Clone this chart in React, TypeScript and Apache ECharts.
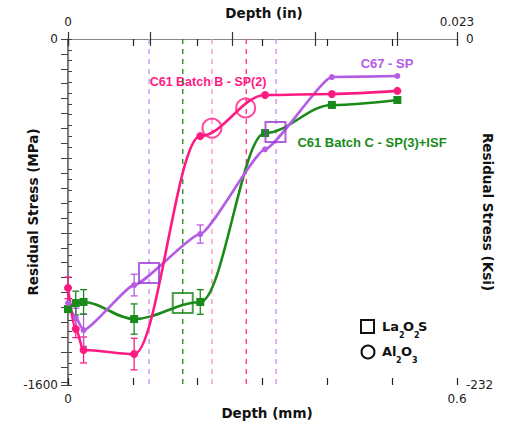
import React, { useEffect, useRef } from 'react';
import * as echarts from 'echarts';

// Depth (mm) of the measurement points
const depthMM = [0, 0.012, 0.024, 0.102, 0.204, 0.304, 0.407, 0.508];
// Residual stress (MPa)
const batchB = [-1151, -1341, -1438, -1457, -449, -259, -254, -240];
const c67 = [-1221, -1290, -1346, -1138, -902, -510, -176, -171];
const batchC = [-1249, -1221, -1216, -1295, -1216, -435, -305, -282];
// Error bar half widths (MPa), 0 = none
const batchBErr = [50, 40, 60, 73, 0, 0, 0, 0];
const c67Err = [0, 45, 75, 50, 42, 0, 0, 0];
const batchCErr = [0, 55, 57, 70, 57, 0, 0, 0];
// Inclusion markers
const la2o2sPurple = [[0.125, -1082], [0.32, -430]];
const la2o2sGreen = [[0.177, -1221]];
const al2o3Pink = [[0.222, -412], [0.274, -319]];
// Vertical dashed lines (mm)
const vlineDepths = [0.125, 0.177, 0.222, 0.275, 0.321];

const PINK = '#ff1a82';
const PURPLE = '#b45ce6';
const SQ_PURPLE = '#9a38d6';
const GREEN = '#1a8a1a';
const vlineColors = ['#c98af0', '#1a8a1a', '#ff8cc6', '#ff2a8a', '#c98af0'];

const FONT = '"Liberation Sans", Arial, sans-serif';
const DV = '"DejaVu Sans", Verdana, sans-serif';
const MAX_IN = 0.6 / 25.4;

function pairs(ys: number[]) {
  return depthMM.map((x, i) => [x, ys[i]]);
}
function errData(ys: number[], errs: number[]) {
  const out: number[][] = [];
  depthMM.forEach((x, i) => {
    if (errs[i] > 0) out.push([x, ys[i] - errs[i], ys[i] + errs[i]]);
  });
  return out;
}
function errSeries(ys: number[], errs: number[], color: string) {
  return {
    type: 'custom',
    xAxisIndex: 0,
    yAxisIndex: 0,
    data: errData(ys, errs),
    encode: { x: 0, y: [1, 2] },
    z: 3,
    renderItem: (params: any, api: any) => {
      const x = api.value(0);
      const p1 = api.coord([x, api.value(1)]);
      const p2 = api.coord([x, api.value(2)]);
      const w = 3.5;
      const st = { stroke: color, lineWidth: 1.3 };
      return {
        type: 'group',
        children: [
          { type: 'line', shape: { x1: p1[0], y1: p1[1], x2: p2[0], y2: p2[1] }, style: st },
          { type: 'line', shape: { x1: p1[0] - w, y1: p1[1], x2: p1[0] + w, y2: p1[1] }, style: st },
          { type: 'line', shape: { x1: p2[0] - w, y1: p2[1], x2: p2[0] + w, y2: p2[1] }, style: st },
        ],
      };
    },
  };
}

export default function App() {
  const ref = useRef<HTMLDivElement>(null);
  useEffect(() => {
    if (!ref.current) return;
    const chart = echarts.init(ref.current, null, { renderer: 'svg' });
    const lineSeries = (name: string, ys: number[], color: string, symbol: string, size: number, smooth: number) => ({
      name,
      type: 'line',
      xAxisIndex: 0,
      yAxisIndex: 0,
      data: pairs(ys),
      smooth,
      smoothMonotone: 'x',
      symbol,
      symbolSize: size,
      showSymbol: true,
      lineStyle: { color, width: 2.6 },
      itemStyle: { color },
      z: 4,
    });
    const emptyMarker = (data: number[][], color: string, symbol: string, size: number) => ({
      type: 'scatter',
      xAxisIndex: 0,
      yAxisIndex: 0,
      data,
      symbol,
      symbolSize: size,
      itemStyle: { color: 'rgba(0,0,0,0)', borderColor: color, borderWidth: 2 },
      z: 5,
    });
    const tickLabel = { color: '#222', fontSize: 12, fontFamily: DV };
    const option: any = {
      animation: false,
      textStyle: { fontFamily: FONT },
      grid: { left: 68, right: 53, top: 39, bottom: 42 },
      xAxis: [
        {
          type: 'value', position: 'bottom', min: 0, max: 0.6, interval: 0.1,
          axisLine: { show: true, lineStyle: { color: '#222', width: 1.2 } },
          axisTick: { show: true, length: 7, lineStyle: { color: '#222', width: 1.2 } },
          axisLabel: {
            margin: 8, ...tickLabel,
            formatter: (v: number) => (v === 0 ? '0' : Math.abs(v - 0.6) < 1e-9 ? '0.6' : ''),
          },
          splitLine: { show: false },
        },
        {
          type: 'value', position: 'top', min: 0, max: MAX_IN, interval: 0.005,
          axisLine: { show: true, lineStyle: { color: '#888', width: 1.2 } },
          axisTick: { show: true, length: 7, lineStyle: { color: '#333', width: 1.2 } },
          axisLabel: {
            margin: 11, ...tickLabel,
            formatter: (v: number) => (v === 0 ? '0' : Math.abs(v - MAX_IN) < 1e-9 ? '0.023' : ''),
          },
          splitLine: { show: false },
        },
        {
          type: 'value', position: 'bottom', min: 0, max: 0.6, interval: 0.1,
          axisLine: { show: false },
          axisTick: { show: true, inside: true, length: 7, lineStyle: { color: '#222', width: 1.2 } },
          axisLabel: { show: false },
          splitLine: { show: false },
        },
        {
          type: 'value', position: 'top', min: 0, max: MAX_IN, interval: 0.005,
          axisLine: { show: false },
          axisTick: { show: true, inside: true, length: 7, lineStyle: { color: '#333', width: 1.2 } },
          axisLabel: { show: false },
          splitLine: { show: false },
        },
      ],
      yAxis: [
        {
          type: 'value', position: 'left', min: -1600, max: 0, interval: 50,
          axisLine: { show: true, lineStyle: { color: '#444', width: 1.5 } },
          axisTick: { show: true, inside: true, length: 4, lineStyle: { color: '#444' } },
          axisLabel: {
            margin: 10, ...tickLabel,
            formatter: (v: number) => (v === 0 ? '0' : v === -1600 ? '-1600' : ''),
          },
          splitLine: { show: false },
        },
        {
          type: 'value', position: 'right', min: 0, max: 232, interval: 10, inverse: true,
          axisLine: { show: true, lineStyle: { color: '#888', width: 1.2 } },
          axisTick: { show: true, inside: true, length: 7, lineStyle: { color: '#444' } },
          axisLabel: {
            margin: 9, ...tickLabel,
            formatter: (v: number) => (v === 0 ? '0' : v === 232 ? '-232' : ''),
          },
          splitLine: { show: false },
        },
      ],
      series: [
        {
          type: 'custom',
          xAxisIndex: 0,
          yAxisIndex: 0,
          data: vlineDepths.map((d) => [d]),
          encode: { x: 0 },
          z: 1,
          renderItem: (params: any, api: any) => {
            const x = api.value(0);
            const top = api.coord([x, 0]);
            const bot = api.coord([x, -1600]);
            return {
              type: 'line',
              shape: { x1: top[0], y1: top[1], x2: bot[0], y2: bot[1] },
              style: { stroke: vlineColors[params.dataIndex], lineWidth: 1.3, lineDash: [5, 5] },
            };
          },
        },
        errSeries(batchB, batchBErr, PINK),
        errSeries(c67, c67Err, PURPLE),
        errSeries(batchC, batchCErr, GREEN),
        lineSeries('C61 Batch C - SP(3)+ISF', batchC, GREEN, 'rect', 8, 0.35),
        lineSeries('C67 - SP', c67, PURPLE, 'circle', 6, 0.15),
        lineSeries('C61 Batch B - SP(2)', batchB, PINK, 'circle', 8, 0.35),
        emptyMarker(la2o2sPurple, SQ_PURPLE, 'rect', 20),
        emptyMarker(la2o2sGreen, GREEN, 'rect', 20),
        emptyMarker(al2o3Pink, PINK, 'circle', 19),
      ],
      graphic: [
        { type: 'text', x: 264, y: 13, style: { text: 'Depth (in)', font: `bold 13.5px ${DV}`, fill: '#111', align: 'center', verticalAlign: 'middle' } },
        { type: 'text', x: 267, y: 413, style: { text: 'Depth (mm)', font: `bold 13.5px ${DV}`, fill: '#111', align: 'center', verticalAlign: 'middle' } },
        { type: 'text', x: 33, y: 212, rotation: Math.PI / 2, style: { text: 'Residual Stress (MPa)', font: `bold 13.5px ${DV}`, fill: '#111', align: 'center', verticalAlign: 'middle' } },
        { type: 'text', x: 488, y: 212, rotation: -Math.PI / 2, style: { text: 'Residual Stress (Ksi)', font: `bold 13.5px ${DV}`, fill: '#111', align: 'center', verticalAlign: 'middle' } },
        { type: 'text', x: 208, y: 82, style: { text: 'C61 Batch B - SP(2)', font: `bold 12.5px ${FONT}`, fill: PINK, align: 'center', verticalAlign: 'middle' } },
        { type: 'text', x: 387, y: 63, style: { text: 'C67 - SP', font: `bold 13px ${FONT}`, fill: PURPLE, align: 'center', verticalAlign: 'middle' } },
        { type: 'text', x: 372, y: 142, style: { text: 'C61 Batch C - SP(3)+ISF', font: `bold 13px ${FONT}`, fill: GREEN, align: 'center', verticalAlign: 'middle' } },
        // legend
        { type: 'rect', shape: { x: 361, y: 320, width: 13, height: 13 }, style: { fill: 'none', stroke: '#111', lineWidth: 2 } },
        { type: 'text', x: 382, y: 326, style: { text: 'La', font: `bold 13px ${DV}`, fill: '#111', verticalAlign: 'middle' } },
        { type: 'text', x: 399, y: 335, style: { text: '2', font: `bold 8px ${DV}`, fill: '#111', verticalAlign: 'middle' } },
        { type: 'text', x: 403, y: 326, style: { text: 'O', font: `bold 13px ${DV}`, fill: '#111', verticalAlign: 'middle' } },
        { type: 'text', x: 414, y: 335, style: { text: '2', font: `bold 8px ${DV}`, fill: '#111', verticalAlign: 'middle' } },
        { type: 'text', x: 418, y: 326, style: { text: 'S', font: `bold 13px ${DV}`, fill: '#111', verticalAlign: 'middle' } },
        { type: 'circle', shape: { cx: 368, cy: 352, r: 6.5 }, style: { fill: 'none', stroke: '#111', lineWidth: 2 } },
        { type: 'text', x: 382, y: 351, style: { text: 'Al', font: `bold 13px ${DV}`, fill: '#111', verticalAlign: 'middle' } },
        { type: 'text', x: 396, y: 360, style: { text: '2', font: `bold 8px ${DV}`, fill: '#111', verticalAlign: 'middle' } },
        { type: 'text', x: 401, y: 351, style: { text: 'O', font: `bold 13px ${DV}`, fill: '#111', verticalAlign: 'middle' } },
        { type: 'text', x: 412, y: 360, style: { text: '3', font: `bold 8px ${DV}`, fill: '#111', verticalAlign: 'middle' } },
      ],
    };
    chart.setOption(option);
    return () => chart.dispose();
  }, []);
  return <div ref={ref} style={{ position: 'fixed', left: 0, top: 0, width: 510, height: 427, background: '#fff' }} />;
}
